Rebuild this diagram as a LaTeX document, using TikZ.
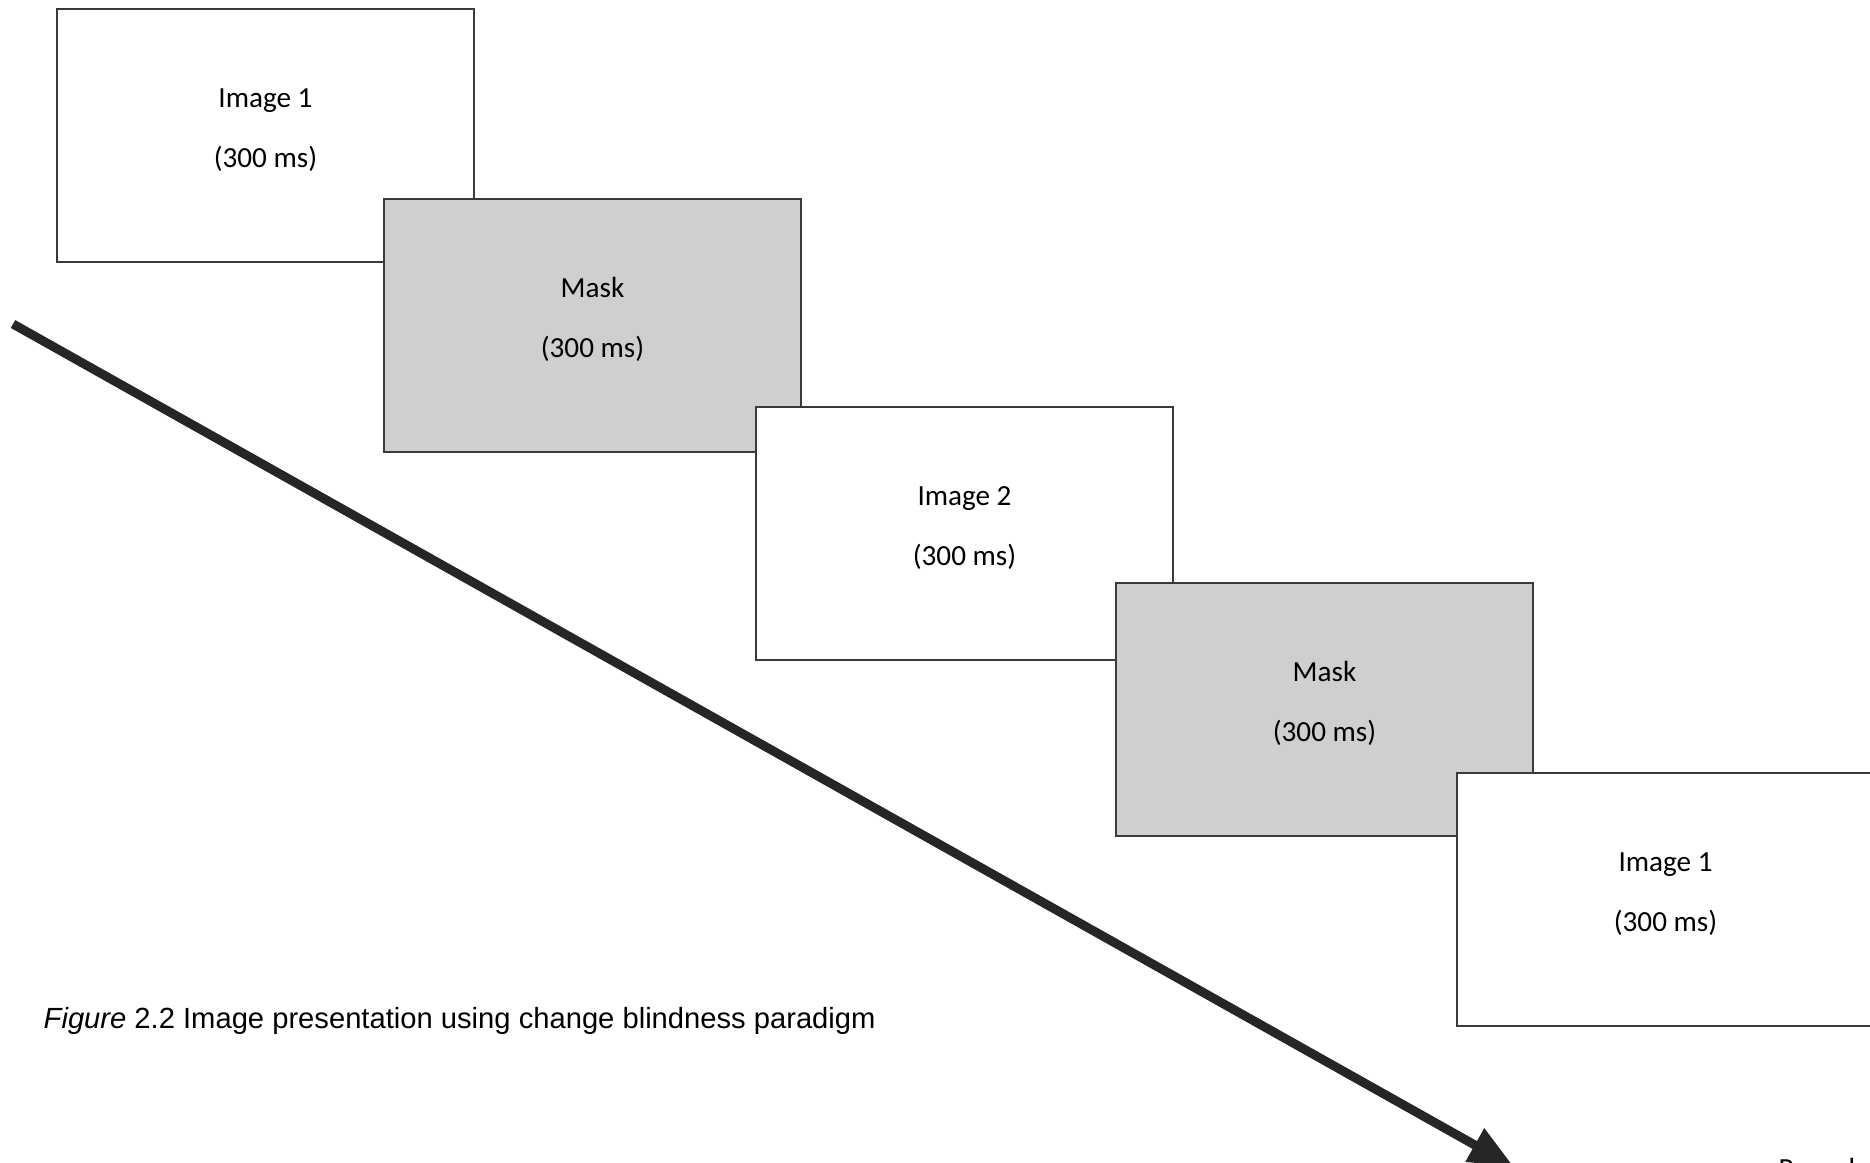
\documentclass[tikz,border=0pt]{standalone}
\usepackage{fontspec}
\setmainfont{Carlito}
\newfontfamily\captionfont{Liberation Sans}
\usetikzlibrary{calc,arrows.meta}
\definecolor{maskgray}{HTML}{D0CECE}
\definecolor{framegray}{HTML}{3A3A3A}
\definecolor{arrowgray}{HTML}{262626}
\begin{document}
\begin{tikzpicture}[x=0.1mm, y=-0.1mm, line join=miter,
		screen/.style={draw=framegray, line width=0.6pt, anchor=north west, inner sep=0pt, outer sep=0pt, minimum width=41.7mm, minimum height=25.3mm},
		boxtext/.style={anchor=base, inner sep=0pt, font=\fontsize{8.3}{10}\selectfont},
		timearrow/.style={draw=arrowgray, line width=0.9mm, line cap=butt, -{Triangle[width=3.6mm,length=4.5mm]}}]
	\useasboundingbox (0,0) rectangle (1870,1162);
	\fill[white] (0,0) rectangle (1870,1162);
	\foreach \n/\x/\y/\shade/\title in {1/57/9/white/Image 1, 2/384/199/maskgray/Mask, 3/756/407/white/Image 2, 4/1116/583/maskgray/Mask, 5/1457/773/white/Image 1}{
		\node[screen, fill=\shade] (box\n) at (\x,\y) {};
		\node[boxtext] (title\n) at ($(box\n.north)+(0,98)$) {\title};
		\node[boxtext] (dur\n) at ($(box\n.north)+(0,158)$) {(300 ms)};
	}
	\coordinate (tstart) at (13,324);
	\coordinate (tend) at (1514,1167);
	\draw[timearrow] (tstart) -- (tend);
	\node[anchor=base west, inner sep=0pt, font=\captionfont\fontsize{8.3}{10}\selectfont] (caption) at (43,1028) {\textit{Figure} 2.2 Image presentation using change blindness paradigm};
	\node[boxtext, anchor=base west] (round) at (1778,1178) {Round};
\end{tikzpicture}
\end{document}
